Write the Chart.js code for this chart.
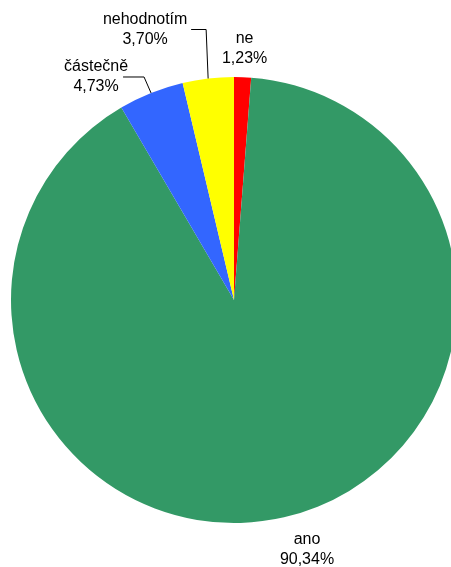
<!DOCTYPE html>
<html>
<head>
<meta charset="utf-8">
<script src="https://cdn.jsdelivr.net/npm/chart.js@4/dist/chart.umd.min.js"></script>
<style>
  html, body { margin: 0; padding: 0; background: #fff; overflow: hidden; }
  #wrap { width: 468px; height: 567px; }
</style>
</head>
<body>
<div id="wrap"><canvas id="pieChart" width="468" height="567"></canvas></div>
<script>
// data (clockwise from 12 o'clock)
const labels = ["ne", "ano", "částečně", "nehodnotím"];
const values = [1.23, 90.34, 4.73, 3.70];
const colors = ["#FF0000", "#339966", "#3366FF", "#FFFF00"];

// label placement relative to the slice's outer mid point (dx, dy of text centre)
// elbow: optional leader line bend, relative to the same point
const labelOffsets = [
  { dx: 2, dy: -29 },
  { dx: 23, dy: 32 },
  { dx: -55, dy: -16, elbow: { dx: -7, dy: -16 }, lineEnd: -21 },
  { dx: -63, dy: -49, elbow: { dx: -2, dy: -49 }, lineEnd: -15 }
];

function fmt(v) {
  return v.toFixed(2).replace('.', ',') + '%';
}

const pieLabels = {
  id: 'pieLabels',
  afterDatasetsDraw(chart) {
    const ctx = chart.ctx;
    const meta = chart.getDatasetMeta(0);
    ctx.save();
    ctx.font = '16px "Liberation Sans", Arial, sans-serif';
    ctx.fillStyle = '#000';
    ctx.textAlign = 'center';
    ctx.textBaseline = 'middle';
    meta.data.forEach(function(arc, i) {
      const mid = (arc.startAngle + arc.endAngle) / 2;
      const px = arc.x + Math.cos(mid) * arc.outerRadius;
      const py = arc.y + Math.sin(mid) * arc.outerRadius;
      const o = labelOffsets[i];
      const tx = px + o.dx, ty = py + o.dy;
      if (o.elbow) {
        ctx.strokeStyle = '#000';
        ctx.lineWidth = 1;
        ctx.beginPath();
        ctx.moveTo(px, py);
        ctx.lineTo(px + o.elbow.dx, py + o.elbow.dy);
        ctx.lineTo(px + o.elbow.dx + o.lineEnd, py + o.elbow.dy);
        ctx.stroke();
      }
      ctx.fillText(labels[i], tx, ty - 10);
      ctx.fillText(fmt(values[i]), tx, ty + 10);
    });
    ctx.restore();
  }
};

new Chart("pieChart", {
  type: "pie",
  data: {
    labels: labels,
    datasets: [{
      data: values,
      backgroundColor: colors,
      borderWidth: 0
    }]
  },
  options: {
    responsive: false,
    animation: false,
    layout: { padding: { top: 77, bottom: 44, left: 11, right: 11 } },
    plugins: {
      legend: { display: false },
      tooltip: { enabled: false }
    }
  },
  plugins: [pieLabels]
});
</script>
</body>
</html>
